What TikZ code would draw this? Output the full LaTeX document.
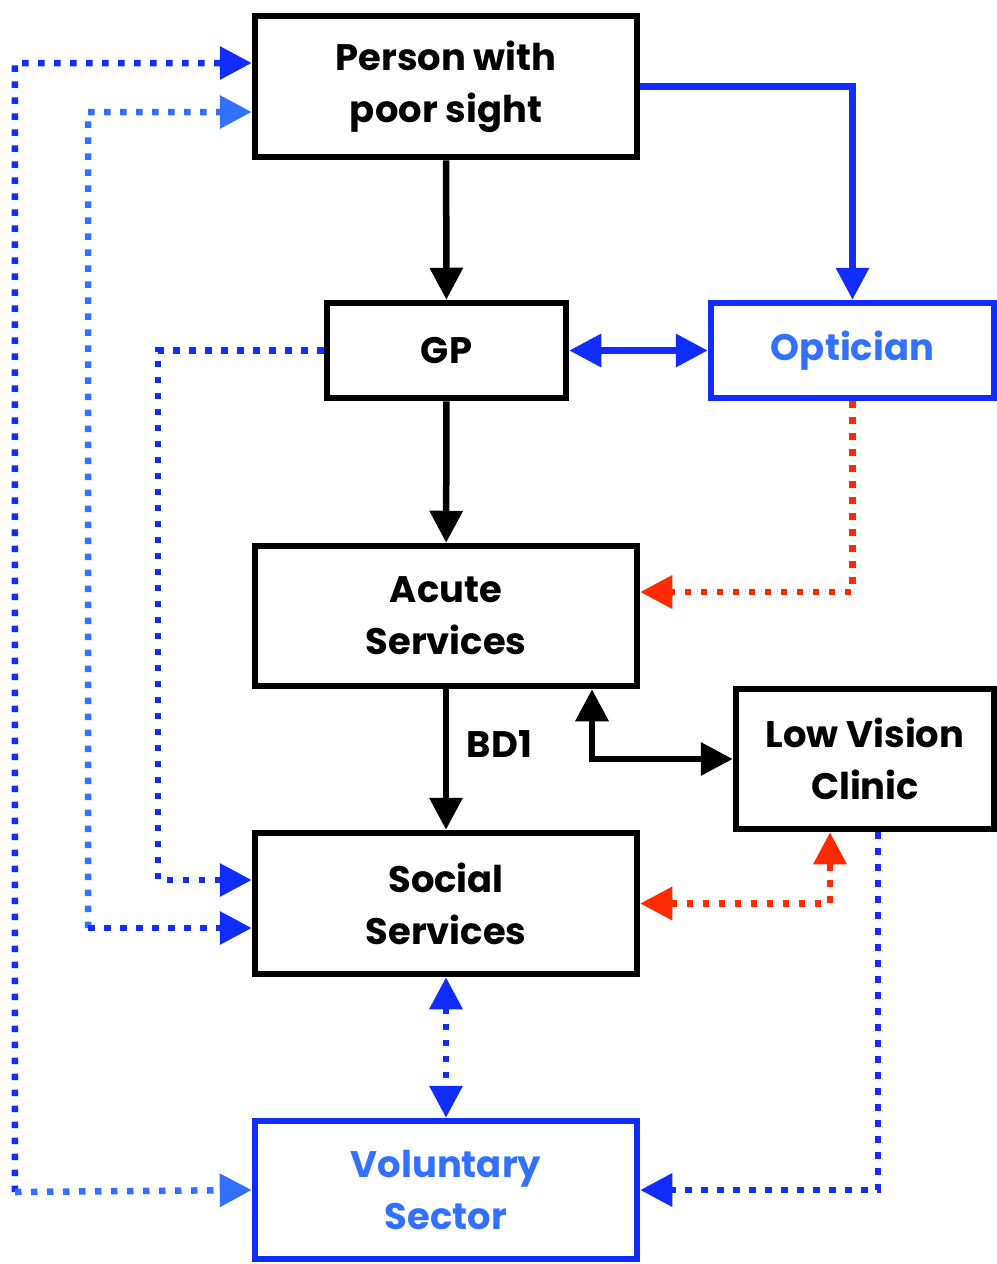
\documentclass[tikz,border=0pt]{standalone}
\usepackage{fontspec}
\setmainfont{Poppins}
\usepackage{xcolor}
\usepackage{tikz}
\usetikzlibrary{positioning, calc, arrows.meta}

\definecolor{darkblue}{RGB}{16,44,255}
\definecolor{lightblue}{RGB}{50,112,255}
\definecolor{dotred}{RGB}{255,42,0}

\begin{document}
\begin{tikzpicture}[
    box/.style={draw, line width=0.065cm, align=center, inner sep=0pt,
                font=\bfseries\fontsize{10.5}{14.8}\selectfont},
    bluebox/.style={box, draw=darkblue, text=lightblue},
    tip/.style={-{Triangle[length=0.32cm, width=0.32cm]}},
    tips/.style={{Triangle[length=0.32cm, width=0.32cm]}-{Triangle[length=0.32cm, width=0.32cm]}},
    solid line/.style={line width=0.065cm},
    dotline/.style={line width=0.065cm, dash pattern=on 0.065cm off 0.095cm}
]

    % Page frame of the reference
    \useasboundingbox (0,0) rectangle (9.97,-12.64);

    % The boxes
    \node[box, minimum width=3.82cm, minimum height=1.41cm] (person) at (4.46,-0.865) {Person with\\poor sight};
    \node[box, minimum width=2.39cm, minimum height=0.95cm] (gp) at (4.465,-3.505) {GP};
    \node[bluebox, minimum width=2.83cm, minimum height=0.95cm] (optician) at (8.525,-3.505) {Optician};
    \node[box, minimum width=3.82cm, minimum height=1.40cm] (acute) at (4.46,-6.16) {Acute\\Services};
    \node[box, minimum width=2.58cm, minimum height=1.40cm] (lvc) at (8.65,-7.59) {Low Vision\\Clinic};
    \node[box, minimum width=3.82cm, minimum height=1.41cm] (social) at (4.46,-9.035) {Social\\Services};
    \node[bluebox, minimum width=3.82cm, minimum height=1.38cm] (voluntary) at (4.46,-11.90) {Voluntary\\Sector};

    % Corners of the long dotted routes on the left
    \coordinate (gpcorner) at (1.58,-3.505);
    \coordinate (innertop) at (0.88,-1.12);
    \coordinate (innerbot) at (0.88,-9.28);
    \coordinate (outertop) at (0.15,-0.63);
    \coordinate (outerbot) at (0.15,-11.92);

    % Solid black referral route
    \draw[solid line, tip] (person) -- (gp);
    \draw[solid line, tip] (gp) -- (acute);
    \draw[solid line, tip] (acute) -- (social)
        node[midway, right, xshift=0.06cm, yshift=0.15cm, font=\bfseries\fontsize{10.5}{12}\selectfont] {BD1};
    \draw[solid line, tips] ([xshift=1.46cm]acute.south) |- (lvc.west);

    % Solid blue links to the optician
    \draw[solid line, darkblue, tip] (person.east) -| (optician.north);
    \draw[solid line, darkblue, tips] (gp.east) -- (optician.west);

    % Red dotted links
    \draw[dotline, dotred, tip] (optician.south) |- ([yshift=0.24cm]acute.east);
    \draw[dotline, dotred, tips] (social.east) -| ([xshift=-0.35cm]lvc.south);

    % Blue dotted links
    \draw[dotline, darkblue, tip] ([xshift=0.13cm]lvc.south) |- (voluntary.east);
    \draw[dotline, darkblue, tips] (social) -- (voluntary);
    \draw[dotline, darkblue, tip] (gp.west) -- (gpcorner) |- ([yshift=0.235cm]social.west);

    % Inner loop between person and social services
    \draw[dotline, lightblue, tip] (innerbot) -- (innertop) -- ([yshift=-0.255cm]person.west);
    \draw[dotline, darkblue, tip] (innerbot) -- ([yshift=-0.245cm]social.west);

    % Outer loop between person and voluntary sector
    \draw[dotline, darkblue, tip] (outerbot) -- (outertop) -- ([yshift=0.235cm]person.west);
    \draw[dotline, lightblue, tip] (outerbot) -- (voluntary.west);

\end{tikzpicture}
\end{document}
